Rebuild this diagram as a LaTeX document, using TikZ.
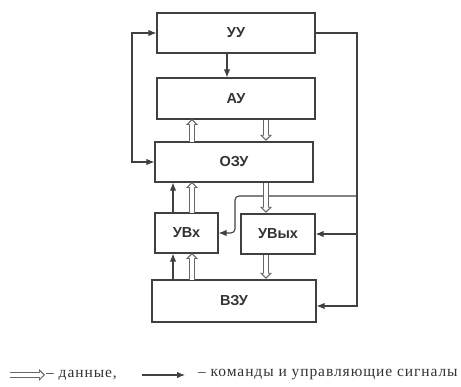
\documentclass[tikz,border=0pt]{standalone}
\usepackage{fontspec}
\setmainfont{Liberation Serif}
\newfontfamily\boxfont{Liberation Sans}
\newfontfamily\legfont[LetterSpace=6]{Liberation Serif}
\usetikzlibrary{arrows.meta,calc}

\begin{document}
\begin{tikzpicture}[
    x=1pt, y=-1pt,
    b/.style={draw=black!75, line width=1.2pt, minimum height=40pt, inner sep=0pt,
      font=\boxfont\bfseries\fontsize{14.5}{16}\selectfont, text=black!80},
    tip/.style={-{Latex[length=8pt, width=6.5pt]}},
    cmd/.style={draw=black!75, line width=1.1pt, tip},
    data/.style={draw=black!60, line width=6pt,
      -{Triangle[length=6pt 0 0, width=12pt 0 0, line width=0pt]},
      postaction={draw=white, line width=3.6pt, shorten >=1.6pt,
        -{Triangle[length=3.6pt 0 0, width=7.2pt 0 0, line width=0pt]}}},
    lg/.style={font=\legfont\fontsize{15.5}{17}\selectfont, text=black!80, inner sep=1pt},
]
    \useasboundingbox (0,0) rectangle (461,387);
    % boxes
    \node[b, minimum width=158pt] (uu) at (236,33) {УУ};
    \node[b, minimum width=158pt, minimum height=41pt] (au) at (236,98.5) {АУ};
    \node[b, minimum width=158pt] (ozu) at (234,162) {ОЗУ};
    \node[b, minimum width=63pt] (uvx) at (186.5,233) {УВх};
    \node[b, minimum width=74pt] (uvyx) at (278,234) {УВых};
    \node[b, minimum width=164pt, minimum height=42pt] (vzu) at (234,301) {ВЗУ};
    % columns and rows of the connectors
    \coordinate (xa) at (173,0);
    \coordinate (xb) at (192,0);
    \coordinate (xc) at (266,0);
    \coordinate (xu) at (227,0);
    \coordinate (xk) at (235,0);
    \coordinate (xl) at (132,0);
    \coordinate (xr) at (357,0);
    \coordinate (yb) at (0,196);
    \coordinate (yv) at (0,306);
    % commands
    \draw[cmd] (uu.south -| xu) -- (au.north -| xu);
    \draw[cmd, {Latex[length=8pt, width=6.5pt]}-{Latex[length=8pt, width=6.5pt]}]
      (ozu.west) -- (ozu.west -| xl) -- (uu.west -| xl) -- (uu.west);
    \draw[cmd] (uu.east) -- (uu.east -| xr) -- (yv -| xr) -- (vzu.east |- yv);
    \draw[cmd] (uvyx.east -| xr) -- (uvyx.east);
    \draw[cmd, rounded corners=4pt] (yb -| xr) -- (yb -| xk) -- (uvx.east -| xk) -- (uvx.east);
    \draw[cmd] (uvx.north -| xa) -- (ozu.south -| xa);
    \draw[cmd] (vzu.north -| xa) -- (uvx.south -| xa);
    % data
    \draw[data] ([yshift=-0.6pt]ozu.north -| xb) -- ([yshift=0.6pt]au.south -| xb);
    \draw[data] ([yshift=-0.6pt]au.south -| xc) -- ([yshift=0.6pt]ozu.north -| xc);
    \draw[data] ([yshift=-0.6pt]ozu.south -| xc) -- ([yshift=0.6pt]uvyx.north -| xc);
    \draw[data] ([yshift=-0.6pt]uvx.north -| xb) -- ([yshift=0.6pt]ozu.south -| xb);
    \draw[data] ([yshift=-0.6pt]vzu.north -| xb) -- ([yshift=0.6pt]uvx.south -| xb);
    \draw[data] ([yshift=-0.6pt]uvyx.south -| xc) -- ([yshift=0.6pt]vzu.north -| xc);
    % legend
    \node[lg, anchor=west] (ldata) at (45,375) {– данные,};
    \node[lg, anchor=west] (lcmd) at (197,375) {– команды и управляющие сигналы};
    \coordinate (l1) at (10,375);
    \coordinate (l2) at (142,375);
    \draw[data] (l1) -- (ldata.west);
    \draw[cmd] (l2) -- ([xshift=-12pt]lcmd.west);
\end{tikzpicture}
\end{document}
